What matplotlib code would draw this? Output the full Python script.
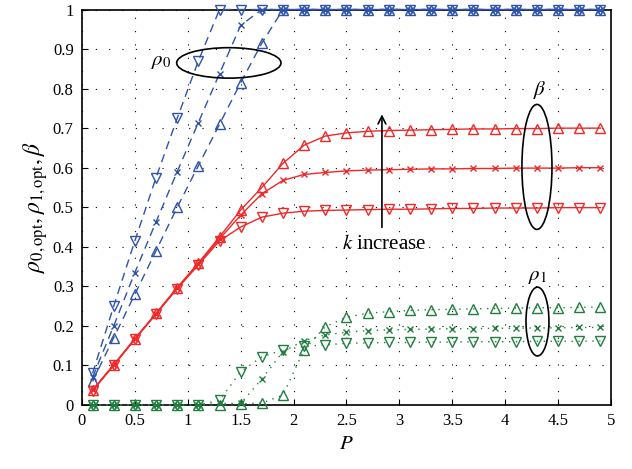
import matplotlib
matplotlib.use("Agg")
import matplotlib.pyplot as plt
from matplotlib.patches import Ellipse
from matplotlib.ticker import FuncFormatter

plt.rcParams['font.family'] = ['Liberation Serif', 'DejaVu Serif']
plt.rcParams['mathtext.fontset'] = 'stix'

# transmit power P
P = [0.1, 0.3, 0.5, 0.7, 0.9, 1.1, 1.3, 1.5, 1.7, 1.9, 2.1, 2.3, 2.5,
     2.7, 2.9, 3.1, 3.3, 3.5, 3.7, 3.9, 4.1, 4.3, 4.5, 4.7, 4.9]

# rho_0,opt for the three k values
rho0_k1 = [0.08, 0.25, 0.415, 0.575, 0.725, 0.87, 1, 1, 1, 1, 1, 1, 1,
           1, 1, 1, 1, 1, 1, 1, 1, 1, 1, 1, 1]
rho0_k2 = [0.07, 0.2, 0.335, 0.463, 0.59, 0.714, 0.838, 0.96, 1, 1, 1, 1, 1,
           1, 1, 1, 1, 1, 1, 1, 1, 1, 1, 1, 1]
rho0_k3 = [0.06, 0.17, 0.28, 0.39, 0.5, 0.605, 0.71, 0.815, 0.915, 1, 1, 1, 1,
           1, 1, 1, 1, 1, 1, 1, 1, 1, 1, 1, 1]

# beta
beta_k1 = [0.036, 0.1, 0.166, 0.23, 0.294, 0.354, 0.415, 0.45, 0.475, 0.485,
           0.49, 0.492, 0.493, 0.494, 0.495, 0.495, 0.496, 0.497, 0.497, 0.498,
           0.498, 0.498, 0.499, 0.499, 0.499]
beta_k2 = [0.037, 0.101, 0.167, 0.231, 0.296, 0.357, 0.42, 0.48, 0.534, 0.568,
           0.583, 0.588, 0.592, 0.594, 0.595, 0.596, 0.597, 0.597, 0.598, 0.598,
           0.599, 0.599, 0.599, 0.6, 0.6]
beta_k3 = [0.038, 0.102, 0.168, 0.232, 0.297, 0.359, 0.425, 0.493, 0.55, 0.611,
           0.657, 0.68, 0.688, 0.692, 0.694, 0.695, 0.696, 0.697, 0.698, 0.698,
           0.699, 0.699, 0.7, 0.7, 0.7]

# rho_1,opt
rho1_k1 = [0, 0, 0, 0, 0, 0, 0.012, 0.084, 0.122, 0.139, 0.148, 0.152, 0.156,
           0.157, 0.158, 0.158, 0.159, 0.159, 0.16, 0.16, 0.16, 0.161, 0.161,
           0.161, 0.162]
rho1_k2 = [0, 0, 0, 0, 0, 0, 0.004, 0.004, 0.066, 0.135, 0.163, 0.177, 0.184,
           0.188, 0.19, 0.191, 0.192, 0.193, 0.193, 0.194, 0.194, 0.195, 0.195,
           0.196, 0.196]
rho1_k3 = [0, 0, 0, 0, 0, 0, 0.0, 0.003, 0.005, 0.025, 0.14, 0.198, 0.222,
           0.232, 0.236, 0.239, 0.241, 0.242, 0.243, 0.244, 0.245, 0.246, 0.246,
           0.247, 0.248]

blue = '#2e53a8'
red = '#f02828'
green = '#1f7f3f'

fig = plt.figure(figsize=(6.32, 4.69), dpi=100)
ax = fig.add_axes([0.1297, 0.1365, 0.8371, 0.8432])

markers = ['v', 'x', '^']
msz = [7.5, 5, 7.5]

for ys, m, s in zip([rho0_k1, rho0_k2, rho0_k3], markers, msz):
    ax.plot(P, ys, color=blue, ls=(0, (6, 4)), lw=1, marker=m, ms=s,
            mfc='none', mew=1, clip_on=False, zorder=3)
for ys, m, s in zip([beta_k1, beta_k2, beta_k3], markers, msz):
    ax.plot(P, ys, color=red, ls='-', lw=1, marker=m, ms=s,
            mfc='none', mew=1, clip_on=False, zorder=4)
for ys, m, s in zip([rho1_k1, rho1_k2, rho1_k3], markers, msz):
    ax.plot(P, ys, color=green, ls=(0, (1, 4)), lw=1, marker=m, ms=s,
            mfc='none', mew=1, clip_on=False, zorder=5)

ax.set_xlim(0, 5)
ax.set_ylim(0, 1)
ax.set_xticks([0, 0.5, 1, 1.5, 2, 2.5, 3, 3.5, 4, 4.5, 5])
ax.set_yticks([0, 0.1, 0.2, 0.3, 0.4, 0.5, 0.6, 0.7, 0.8, 0.9, 1])
fmt = FuncFormatter(lambda v, pos: '%g' % v)
ax.xaxis.set_major_formatter(fmt)
ax.yaxis.set_major_formatter(fmt)
ax.tick_params(direction='in', length=4, labelsize=12, pad=6)
ax.grid(True, color='black', ls=(0, (1, 11)), lw=0.8)
for sp in ax.spines.values():
    sp.set_linewidth(1.2)

ax.set_xlabel('$P$', fontsize=15, labelpad=4)
ax.set_ylabel(r'$\rho_{0,\mathrm{opt}}, \rho_{1,\mathrm{opt}}, \beta$',
              fontsize=17, labelpad=2)

# ellipses grouping each family of curves
ax.add_patch(Ellipse((1.388, 0.865), 0.986, 0.077, fill=False, ec='black',
                     lw=1.2, zorder=6))
ax.add_patch(Ellipse((4.30, 0.602), 0.284, 0.316, fill=False, ec='black',
                     lw=1.2, zorder=6))
ax.add_patch(Ellipse((4.305, 0.211), 0.217, 0.174, fill=False, ec='black',
                     lw=1.2, zorder=6))

ax.text(0.75, 0.868, r'$\rho_0$', fontsize=15, ha='center', va='center')
ax.text(4.33, 0.796, r'$\beta$', fontsize=15, ha='center', va='center')
ax.text(4.31, 0.326, r'$\rho_1$', fontsize=15, ha='center', va='center')

ax.annotate('', xy=(2.835, 0.742), xytext=(2.835, 0.442),
            arrowprops=dict(arrowstyle='->', color='black', lw=1.2,
                            mutation_scale=14), zorder=7)
ax.text(2.855, 0.405, '$k$ increase', fontsize=15, ha='center', va='center',
        zorder=7)

fig.savefig('out.png', dpi=100)
